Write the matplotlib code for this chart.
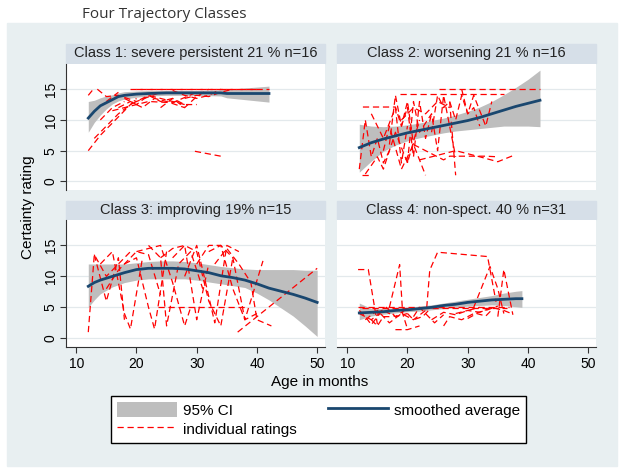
import matplotlib
matplotlib.use('Agg')
import matplotlib.pyplot as plt
from matplotlib.patches import Rectangle, Patch
from matplotlib.lines import Line2D

# ======================
# DATA
# ======================

titles = ['Class 1: severe persistent 21 % n=16',
          'Class 2: worsening 21 % n=16',
          'Class 3: improving 19% n=15',
          'Class 4: non-spect. 40 % n=31']

# smoothed average with 95% CI, one set per class
c1_age = [12, 13, 14, 15, 16, 17, 18, 20, 22, 25, 28, 30, 34, 35, 38, 42]
c1_mean = [10.3, 11.4, 12.3, 12.8, 13.3, 13.8, 14.0, 14.2, 14.3, 14.4, 14.4, 14.4, 14.4, 14.3, 14.3, 14.3]
c1_lo = [8.0, 9.6, 10.8, 11.8, 12.6, 13.1, 13.4, 13.7, 13.9, 14.0, 14.0, 14.0, 13.9, 13.6, 13.3, 12.9]
c1_hi = [13.0, 13.2, 13.6, 13.9, 14.1, 14.4, 14.6, 14.7, 14.8, 14.8, 14.8, 14.8, 14.9, 15.0, 15.2, 15.5]

c2_age = [12, 14, 16, 18, 20, 22, 24, 26, 28, 30, 32, 34, 36, 38, 40, 42]
c2_mean = [5.5, 6.3, 6.9, 7.4, 7.9, 8.3, 8.7, 9.1, 9.5, 9.9, 10.4, 11.0, 11.6, 12.2, 12.7, 13.2]
c2_lo = [1.5, 3.3, 4.9, 5.9, 6.6, 7.1, 7.5, 7.9, 8.2, 8.4, 8.6, 8.8, 9.0, 9.0, 9.0, 8.9]
c2_hi = [9.3, 9.0, 8.9, 9.0, 9.2, 9.5, 9.9, 10.3, 10.8, 11.4, 12.1, 13.0, 14.1, 15.3, 16.6, 18.1]

c3_age = [12, 13, 14, 16, 18, 20, 22, 24, 26, 28, 30, 32, 34, 36, 38, 40, 42, 44, 46, 48, 50]
c3_mean = [8.4, 9.0, 9.4, 10.0, 10.6, 11.1, 11.3, 11.3, 11.3, 11.2, 10.9, 10.6, 10.1, 9.8, 9.4, 8.8, 8.1, 7.6, 7.1, 6.5, 5.8]
c3_lo = [5.0, 6.2, 7.2, 8.3, 9.0, 9.4, 9.6, 9.6, 9.6, 9.6, 9.4, 9.1, 8.8, 8.5, 8.2, 7.3, 6.2, 4.9, 3.6, 2.0, 0.3]
c3_hi = [12.0, 12.0, 12.0, 12.0, 12.0, 12.2, 12.4, 12.5, 12.5, 12.4, 12.2, 11.9, 11.6, 11.4, 11.2, 11.1, 11.1, 11.1, 11.1, 11.0, 11.0]

c4_age = [12, 14, 16, 18, 20, 22, 24, 26, 28, 30, 32, 34, 36, 38, 39]
c4_mean = [4.1, 4.2, 4.3, 4.5, 4.6, 4.8, 5.0, 5.3, 5.5, 5.8, 6.0, 6.2, 6.3, 6.4, 6.4]
c4_lo = [3.0, 3.6, 3.9, 4.1, 4.3, 4.4, 4.6, 4.8, 5.0, 5.2, 5.3, 5.4, 5.3, 5.1, 5.0]
c4_hi = [5.7, 4.8, 4.8, 4.9, 5.0, 5.2, 5.4, 5.7, 6.0, 6.3, 6.6, 6.9, 7.3, 7.6, 7.7]

# individual ratings: (ages, values) per child
c1_ind = [
    ([20, 42], [15, 15]),
    ([19, 30, 40], [15, 15, 15]),
    ([12, 14, 16, 18, 20], [5, 7.5, 9.5, 11.5, 13.5]),
    ([13, 15, 17, 19, 22], [7, 9, 11, 12.5, 14]),
    ([12, 13], [14, 15.2]),
    ([13.5, 15, 17, 20, 24], [15, 13.8, 14, 13, 14.5]),
    ([16, 18, 20, 22, 26, 30], [11.5, 12, 12.5, 13, 12.8, 14.5]),
    ([18, 20, 22, 24, 26, 28], [13.5, 12.5, 14, 13.5, 13, 12.5]),
    ([22, 24, 26, 28, 30, 32], [14, 13, 13.5, 12, 13.8, 15]),
    ([26, 28, 30, 32, 34], [14.8, 14, 13.5, 14, 15]),
    ([29.7, 34], [4.9, 4.1]),
    ([17, 19, 21, 23, 25, 28], [12, 13, 12, 13.5, 13, 12]),
    ([14, 16, 18], [10, 12, 13]),
    ([28, 30, 32, 34, 36], [13.5, 14, 13.8, 14.5, 15]),
    ([24, 26, 28, 30], [12, 13.5, 12.5, 12.5]),
    ([15, 17], [13, 14.5]),
]

c2_ind = [
    ([25.3, 42], [15.1, 15.1]),
    ([18.7, 28, 36], [14.3, 14.3, 14.3]),
    ([12.6, 18, 19, 20, 21], [12.1, 12.1, 9, 13, 6]),
    ([12, 13, 14, 15, 16, 17], [2, 10, 4, 7, 3, 5]),
    ([13, 15, 16, 18, 20, 22], [1.2, 4, 2, 8, 3, 10]),
    ([17, 18, 19, 20, 21, 22, 23, 24], [6, 14, 9, 12, 4, 13, 7, 11]),
    ([20, 21, 22, 24, 25, 26, 27, 28], [3, 13, 8, 11, 5, 14, 9, 4]),
    ([24, 25, 26, 27, 28], [8, 14, 12, 13, 1]),
    ([22, 24, 26, 28, 30, 32, 35, 37.8], [3.5, 4, 4.5, 5, 4.5, 4, 3.2, 4.3]),
    ([21, 23, 26, 27, 29, 31, 33, 35], [6, 5, 3.5, 4.1, 4.1, 4.1, 4.1, 4]),
    ([14, 16, 18, 19, 20], [11, 7, 12, 3, 9]),
    ([27, 28, 29, 30, 31, 32], [13, 10, 14, 11, 12, 9]),
    ([29, 30, 31, 33, 34], [15, 11, 14, 9, 13]),
    ([16, 17, 19, 21, 23], [5, 9, 2, 6, 1]),
    ([12.4, 13.6], [1, 1]),
    ([19, 21, 23, 25, 27], [10, 12, 11, 13, 12]),
]

c3_ind = [
    ([12, 13, 15, 17, 19], [1, 13.5, 10, 12, 14]),
    ([13, 15, 17, 18], [13.5, 6, 13, 3]),
    ([14, 16, 18, 19, 21], [12, 14, 4, 1.5, 13]),
    ([15, 17, 20, 22, 24], [8, 11, 14, 13.5, 7]),
    ([18, 20, 22, 23, 25], [12, 13, 5, 1.5, 14]),
    ([20, 22, 24, 26, 28, 29], [14, 14.5, 15, 9, 2, 5]),
    ([22, 24, 25, 27, 29, 31], [15, 13, 2, 12, 14, 8]),
    ([24, 26, 28, 30, 32], [13, 14.5, 15, 3, 12]),
    ([23.5, 38], [5, 5]),
    ([26, 28, 30, 32, 34, 36], [13, 15, 14, 6, 2, 13]),
    ([28, 30, 31, 33, 35, 37], [10, 15, 11, 2.5, 15, 14]),
    ([30, 32, 34, 36, 38, 40], [12, 15, 15, 8, 3, 4]),
    ([32, 34, 36, 38, 41], [14, 15, 13, 3, 12.5]),
    ([36.8, 50], [1, 11.3]),
    ([33, 35, 37, 39, 40, 42.4], [12, 14.5, 12, 9, 3, 2]),
]

c4_ind = [
    ([11.8, 13.5, 15], [11.1, 11.1, 2.3]),
    ([11.8, 36.8], [5, 5]),
    ([12.5, 36.5], [4.9, 4.9]),
    ([17, 18.7, 19.2, 20], [5, 11.9, 4, 1.5]),
    ([23.2, 23.7, 25, 33.3, 34.7], [5, 11, 13.9, 13.2, 5.9]),
    ([31, 33.7, 35, 36], [5, 11.6, 8, 4]),
    ([35, 36, 37.5], [3.5, 11.1, 3.8]),
    ([12, 14, 16, 18, 20], [4, 3, 4.5, 3.5, 4]),
    ([13, 15, 17, 19, 21, 23], [3, 4.5, 2.5, 4, 3, 4.5]),
    ([18, 20, 22], [1.4, 1.4, 2]),
    ([24, 26, 28, 30, 32], [3, 4.2, 3.8, 4.5, 5]),
    ([26, 27, 29, 31, 33, 35], [2, 3.5, 3, 4, 4.5, 5.2]),
    ([14, 15, 16, 17], [3, 2, 3.5, 3.5]),
    ([20, 21, 22.5, 24], [4, 3, 3.5, 5]),
    ([28, 30, 32, 34, 36, 37], [4, 4.5, 4.2, 5, 4.5, 4.1]),
    ([12, 13, 14, 16], [4.5, 3.5, 2.2, 4.8]),
    ([15, 16.5, 18, 19.5], [4, 5, 3.5, 4.5]),
    ([21, 22, 23, 24.5, 26], [3.5, 5, 4, 2.5, 3.8]),
    ([30, 31.5, 33, 34], [3.2, 4, 3.6, 4.6]),
]

smooth = [(c1_age, c1_mean, c1_lo, c1_hi), (c2_age, c2_mean, c2_lo, c2_hi),
          (c3_age, c3_mean, c3_lo, c3_hi), (c4_age, c4_mean, c4_lo, c4_hi)]
individual = [c1_ind, c2_ind, c3_ind, c4_ind]

# ======================
# STYLE
# ======================

plt.rcParams['font.family'] = ['Liberation Sans', 'DejaVu Sans']
W, H = 624, 474
panel_col = '#e8eff1'
strip_col = '#d6dfe8'
navy = '#1a476f'
ci_col = '#bebebe'
dash = (0, (5, 3))

fig = plt.figure(figsize=(W / 100, H / 100), dpi=100)


def fbox(x0, y0, x1, y1):
    # pixel box (top-left origin) -> figure fraction rect
    return [x0 / W, 1 - y1 / H, (x1 - x0) / W, (y1 - y0) / H]


fig.patches.append(Rectangle((7 / W, 1 - 466 / H), 610 / W, 443 / H,
                             transform=fig.transFigure, color=panel_col, zorder=-2))
fig.text(82 / W, 1 - 14 / H, 'Four Trajectory Classes', family='Open Sans',
         fontsize=11, color='#333333', ha='left', va='center')

boxes = [(66, 64, 325, 190), (337, 64, 596, 190),
         (66, 220, 325, 347), (337, 220, 596, 347)]
strips = [(66, 44, 325, 63), (337, 44, 596, 63),
          (66, 201, 325, 219), (337, 201, 596, 219)]

for i in range(4):
    ax = fig.add_axes(fbox(*boxes[i]))
    ages, mean, lo, hi = smooth[i]
    ax.fill_between(ages, lo, hi, color=ci_col, lw=0, zorder=1)
    for a, v in individual[i]:
        ax.plot(a, v, color='red', lw=0.9, linestyle=dash, zorder=2)
    ax.plot(ages, mean, color=navy, lw=2.0, zorder=3)

    ax.set_xlim(8.3, 51.3)
    ax.set_ylim(-1.4, 19.1)
    ax.set_xticks([10, 20, 30, 40, 50])
    ax.set_yticks([0, 5, 10, 15])
    ax.yaxis.grid(True, color='#e3e9ec', lw=0.9)
    ax.set_axisbelow(True)
    for s in ax.spines.values():
        s.set_visible(False)

    left = i % 2 == 0
    bottom = i >= 2
    if left:
        ax.spines['left'].set_visible(True)
        ax.spines['left'].set_color('#333333')
        ax.tick_params(axis='y', direction='out', length=4, color='#333333',
                       labelsize=10, labelrotation=90, pad=2)
        for lab in ax.get_yticklabels():
            lab.set_va('center')
    else:
        ax.tick_params(axis='y', length=0, labelleft=False)
    if bottom:
        ax.spines['bottom'].set_visible(True)
        ax.spines['bottom'].set_color('#333333')
        ax.tick_params(axis='x', direction='out', length=4, color='#333333',
                       labelsize=10, pad=3)
    else:
        ax.tick_params(axis='x', length=0, labelbottom=False)

    sx0, sy0, sx1, sy1 = strips[i]
    fig.patches.append(Rectangle((sx0 / W, 1 - sy1 / H), (sx1 - sx0) / W, (sy1 - sy0) / H,
                                 transform=fig.transFigure, color=strip_col, zorder=-1))
    fig.text((sx0 + sx1) / 2 / W, 1 - (sy0 + sy1) / 2 / H, titles[i],
             fontsize=10.5, color='#222222', ha='center', va='center')

fig.text(28 / W, 1 - 207 / H, 'Certainty rating', rotation=90,
         fontsize=11, ha='center', va='center')
fig.text(320 / W, 1 - 382 / H, 'Age in months', fontsize=11, ha='center', va='center')

# legend
handles = [Patch(facecolor=ci_col, edgecolor='none'),
           Line2D([], [], color='red', lw=0.9, linestyle=dash),
           Line2D([], [], color=navy, lw=2.0)]
labels = ['95% CI', 'individual ratings', 'smoothed average']
leg = fig.legend(handles, labels, ncol=2, loc='upper left',
                 bbox_to_anchor=fbox(111, 396, 526, 447), mode='expand',
                 fontsize=11, frameon=True, fancybox=False, framealpha=1,
                 edgecolor='black', handlelength=3.9, handleheight=1.15,
                 handletextpad=0.4, labelspacing=0.2, borderpad=0.4,
                 borderaxespad=0)
leg.get_frame().set_linewidth(1.0)

fig.savefig('out.png', dpi=100)
